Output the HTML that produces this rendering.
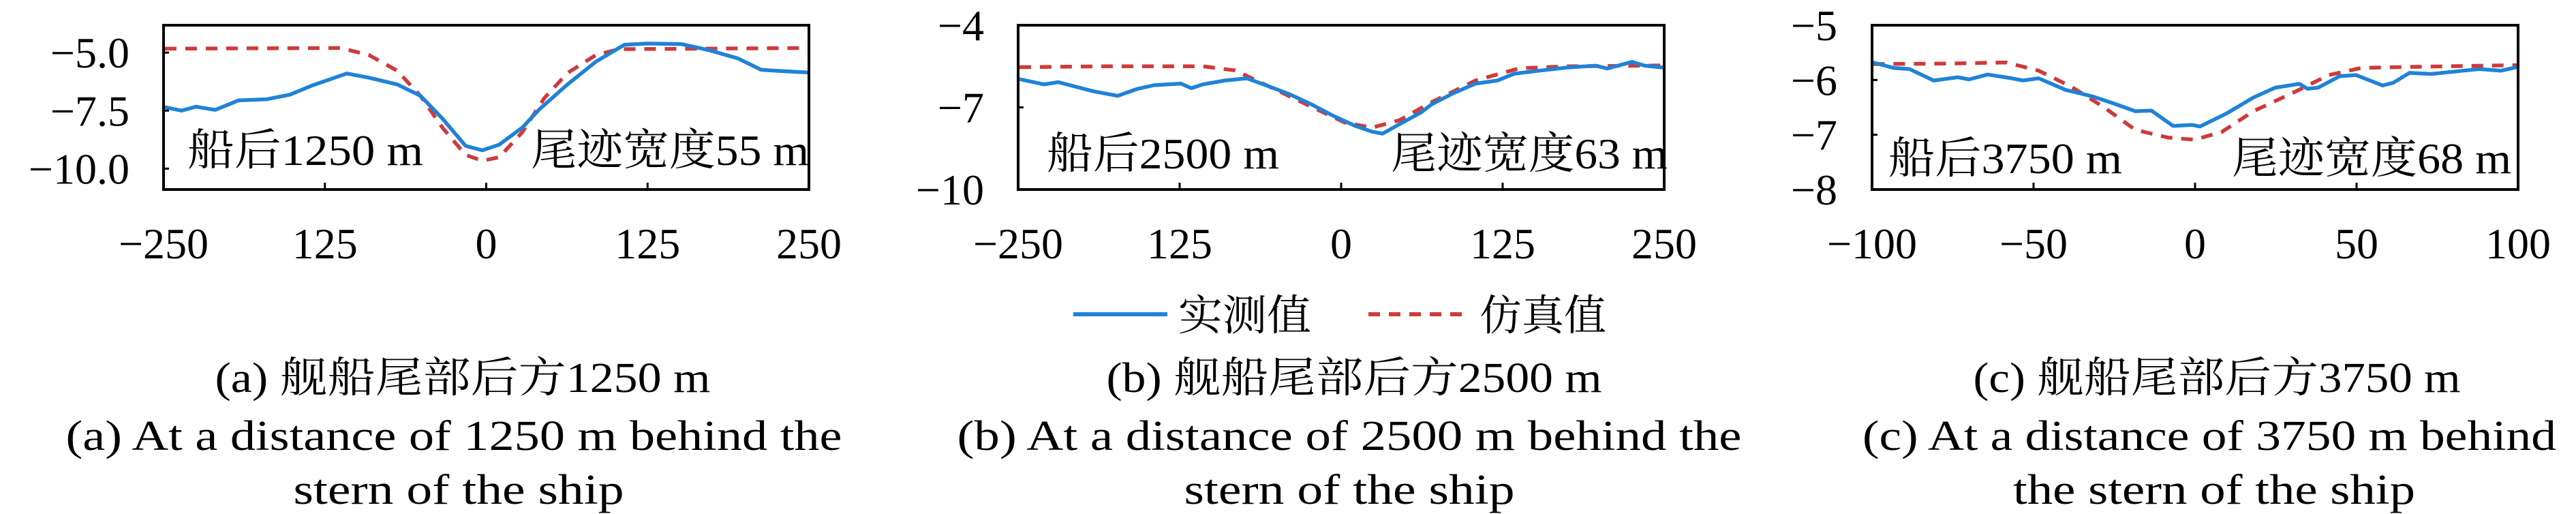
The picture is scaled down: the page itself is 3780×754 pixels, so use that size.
<!DOCTYPE html>
<html><head><meta charset="utf-8">
<style>
html,body{margin:0;padding:0;background:#fff;}
svg{display:block;}
text{font-family:"Liberation Serif","Noto Serif CJK SC",serif;fill:#000;}
</style></head>
<body>
<svg id="fig" xmlns="http://www.w3.org/2000/svg" width="3780" height="754" viewBox="0 0 3780 754">
  <g id="legend">
    <g>
      <line x1="1575" y1="461" x2="1713" y2="461" stroke="#1f82d8" stroke-width="6"/>
      <text x="1729" y="484" font-size="62" textLength="195" lengthAdjust="spacingAndGlyphs">实测值</text>
    </g>
    <g>
      <line x1="2008" y1="461" x2="2146" y2="461" stroke="#cf3a3a" stroke-width="6" stroke-dasharray="17,13"/>
      <text x="2171" y="484" font-size="62" textLength="186" lengthAdjust="spacingAndGlyphs">仿真值</text>
    </g>
  </g>
  <g>
    <text x="679" y="575" font-size="62" text-anchor="middle" textLength="727" lengthAdjust="spacingAndGlyphs">(a) 舰船尾部后方1250 m</text>
    <text x="666" y="660" font-size="62" text-anchor="middle" textLength="1139" lengthAdjust="spacingAndGlyphs">(a) At a distance of 1250 m behind the</text>
    <text x="673" y="739" font-size="62" text-anchor="middle" textLength="485" lengthAdjust="spacingAndGlyphs">stern of the ship</text>
  </g>
  <g>
    <text x="1987" y="575" font-size="62" text-anchor="middle" textLength="727" lengthAdjust="spacingAndGlyphs">(b) 舰船尾部后方2500 m</text>
    <text x="1980" y="660" font-size="62" text-anchor="middle" textLength="1151" lengthAdjust="spacingAndGlyphs">(b) At a distance of 2500 m behind the</text>
    <text x="1980" y="739" font-size="62" text-anchor="middle" textLength="485" lengthAdjust="spacingAndGlyphs">stern of the ship</text>
  </g>
  <g>
    <text x="3253" y="575" font-size="62" text-anchor="middle" textLength="715" lengthAdjust="spacingAndGlyphs">(c) 舰船尾部后方3750 m</text>
    <text x="3242" y="660" font-size="62" text-anchor="middle" textLength="1018" lengthAdjust="spacingAndGlyphs">(c) At a distance of 3750 m behind</text>
    <text x="3249" y="739" font-size="62" text-anchor="middle" textLength="590" lengthAdjust="spacingAndGlyphs">the stern of the ship</text>
  </g>
</svg>
<script>
// ---- Chart A data ----
const aXTicks = [-250, -125, 0, 125, 250];
const aXTickLabels = ["\u2212250", "125", "0", "125", "250"];
const aYTicks = [-5, -7.5, -10];
const aYTickLabels = ["\u22125.0", "\u22127.5", "\u221210.0"];
const aMeasX = [-249,-236,-225,-210,-192,-170,-152,-135,-108,-91,-69,-51,-34,-16,-3,10,28,41,63,85,107,125,151,173,195,213,230,250];
const aMeasY = [-7.35,-7.50,-7.33,-7.47,-7.06,-7.01,-6.81,-6.42,-5.90,-6.08,-6.37,-6.86,-7.84,-9.02,-9.21,-8.97,-8.23,-7.45,-6.37,-5.39,-4.66,-4.61,-4.63,-4.90,-5.25,-5.74,-5.80,-5.86];
const aSimX = [-249,-113,-91,-69,-51,-34,-16,-3,10,28,45,63,85,103,250];
const aSimY = [-4.83,-4.80,-5.10,-5.78,-6.86,-8.23,-9.41,-9.66,-9.51,-8.43,-6.96,-5.88,-5.10,-4.85,-4.80];

// ---- Chart B data ----
const bXTicks = [-250, -125, 0, 125, 250];
const bXTickLabels = ["\u2212250", "125", "0", "125", "250"];
const bYTicks = [-4, -7, -10];
const bYTickLabels = ["\u22124", "\u22127", "\u221210"];
const bMeasX = [-249,-230,-219,-192,-173,-158,-145,-124,-116,-107,-90,-73,-56,-40,-23,-6,11,24,32,45,62,70,87,104,121,134,155,176,197,206,225,235,250];
const bMeasY = [-5.97,-6.16,-6.08,-6.41,-6.58,-6.33,-6.19,-6.13,-6.30,-6.16,-6.02,-5.94,-6.23,-6.52,-6.89,-7.31,-7.68,-7.89,-7.96,-7.62,-7.18,-6.89,-6.48,-6.13,-6.02,-5.77,-5.65,-5.54,-5.48,-5.58,-5.34,-5.48,-5.55];
const bSimX = [-249,-183,-107,-82,-56,-23,3,24,45,70,104,138,176,250];
const bSimY = [-5.53,-5.50,-5.50,-5.65,-6.23,-6.98,-7.56,-7.74,-7.47,-6.81,-6.02,-5.57,-5.50,-5.47];

// ---- Chart C data ----
const cXTicks = [-100, -50, 0, 50, 100];
const cXTickLabels = ["\u2212100", "\u221250", "0", "50", "100"];
const cYTicks = [-5, -6, -7, -8];
const cYTickLabels = ["\u22125", "\u22126", "\u22127", "\u22128"];
const cMeasX = [-99.7,-93.3,-88.4,-80.9,-73.4,-70.0,-64.2,-56.7,-53.4,-48.4,-40.1,-31.8,-25.1,-18.5,-13.5,-6.8,-1.0,1.5,9.8,18.1,24.8,32.3,34.8,38.1,44.8,49.8,58.1,61.4,66.4,73.1,79.7,88.0,94.7,100];
const cMeasY = [-5.68,-5.78,-5.80,-6.01,-5.95,-5.99,-5.90,-5.97,-6.01,-5.97,-6.18,-6.30,-6.43,-6.57,-6.56,-6.84,-6.82,-6.85,-6.61,-6.32,-6.14,-6.07,-6.16,-6.14,-5.93,-5.91,-6.10,-6.05,-5.87,-5.89,-5.85,-5.80,-5.83,-5.76];
const cSimX = [-99.7,-75,-58.4,-48.4,-38.4,-28.4,-18.5,-8.5,-0.2,8.2,18.1,31.5,41.4,51.4,66.4,100];
const cSimY = [-5.71,-5.70,-5.68,-5.83,-6.12,-6.49,-6.91,-7.05,-7.09,-6.95,-6.57,-6.20,-5.91,-5.78,-5.76,-5.73];

const NS = "http://www.w3.org/2000/svg";
const svg = document.getElementById('fig');

function mk(tag, attrs, parent) {
  const el = document.createElementNS(NS, tag);
  for (const k in attrs) el.setAttribute(k, attrs[k]);
  parent.appendChild(el);
  return el;
}

function drawChart(cfg) {
  const g = mk('g', {}, svg);
  
  
  const sx = v => cfg.left + (v - cfg.xmin) / (cfg.xmax - cfg.xmin) * (cfg.right - cfg.left);
  const sy = v => cfg.top + (cfg.ymax - v) / (cfg.ymax - cfg.ymin) * (cfg.bottom - cfg.top);

  const mpts = cfg.mx.map((x, i) => sx(x).toFixed(1) + ',' + sy(cfg.my[i]).toFixed(1)).join(' ');
  const spts = cfg.simx.map((x, i) => sx(x).toFixed(1) + ',' + sy(cfg.simy[i]).toFixed(1)).join(' ');
  const clipId = cfg.name + '-clip';
  const cp = mk('clipPath', {id: clipId}, g);
  mk('rect', {x: cfg.left, y: cfg.top, width: cfg.right - cfg.left, height: cfg.bottom - cfg.top}, cp);
  const sim = mk('polyline', {points: spts, fill: 'none', stroke: '#cf3a3a', 'stroke-width': 5.5, 'stroke-dasharray': '17,13', 'stroke-linejoin': 'round', 'clip-path': 'url(#' + clipId + ')'}, g);
  
  
  const meas = mk('polyline', {points: mpts, fill: 'none', stroke: '#1f82d8', 'stroke-width': 5.5, 'stroke-linejoin': 'round', 'clip-path': 'url(#' + clipId + ')'}, g);
  
  

  const fr = mk('rect', {x: cfg.left, y: cfg.top, width: cfg.right - cfg.left, height: cfg.bottom - cfg.top, fill: 'none', stroke: '#000', 'stroke-width': 4}, g);
  
  

  cfg.xt.forEach((t, i) => {
    const x = sx(t);
    mk('line', {x1: x, y1: cfg.bottom, x2: x, y2: cfg.bottom - 10, stroke: '#000', 'stroke-width': 3}, g);
    const tx = mk('text', {x: x, y: 379, 'font-size': 64, 'text-anchor': 'middle'}, g);
    tx.textContent = cfg.xl[i];
    
    
  });
  cfg.yt.forEach((t, i) => {
    const y = sy(t);
    mk('line', {x1: cfg.left, y1: y, x2: cfg.left + 8, y2: y, stroke: '#000', 'stroke-width': 3}, g);
    const ty = mk('text', {x: cfg.ylx, y: y + 22, 'font-size': 64, 'text-anchor': 'end'}, g);
    ty.textContent = cfg.yl[i];
    
    
  });
  const a1 = mk('text', {x: cfg.a1x, y: cfg.annY, 'font-size': 64, textLength: cfg.a1w, lengthAdjust: 'spacingAndGlyphs'}, g);
  a1.textContent = cfg.ann1;
  
  
  const a2 = mk('text', {x: cfg.a2x, y: cfg.annY, 'font-size': 64, textLength: cfg.a2w, lengthAdjust: 'spacingAndGlyphs'}, g);
  a2.textContent = cfg.ann2;
  
  
}

drawChart({name: 'chart-a', left: 240, right: 1187, top: 37, bottom: 278,
  xmin: -250, xmax: 250, ymin: -10.9, ymax: -3.82, ylx: 190,
  xt: aXTicks, xl: aXTickLabels, yt: aYTicks, yl: aYTickLabels,
  mx: aMeasX, my: aMeasY, simx: aSimX, simy: aSimY,
  ann1: '船后1250 m', ann2: '尾迹宽度55 m', annY: 242,
  a1x: 275, a1w: 346, a2x: 779, a2w: 408});
drawChart({name: 'chart-b', left: 1494, right: 2442, top: 37, bottom: 278,
  xmin: -250, xmax: 250, ymin: -10, ymax: -4, ylx: 1444,
  xt: bXTicks, xl: bXTickLabels, yt: bYTicks, yl: bYTickLabels,
  mx: bMeasX, my: bMeasY, simx: bSimX, simy: bSimY,
  ann1: '船后2500 m', ann2: '尾迹宽度63 m', annY: 247,
  a1x: 1536, a1w: 341, a2x: 2041, a2w: 406});
drawChart({name: 'chart-c', left: 2747, right: 3695, top: 37, bottom: 278,
  xmin: -100, xmax: 100, ymin: -8, ymax: -5, ylx: 2696,
  xt: cXTicks, xl: cXTickLabels, yt: cYTicks, yl: cYTickLabels,
  mx: cMeasX, my: cMeasY, simx: cSimX, simy: cSimY,
  ann1: '船后3750 m', ann2: '尾迹宽度68 m', annY: 254,
  a1x: 2771, a1w: 343, a2x: 3275, a2w: 410});
</script>
</body></html>
